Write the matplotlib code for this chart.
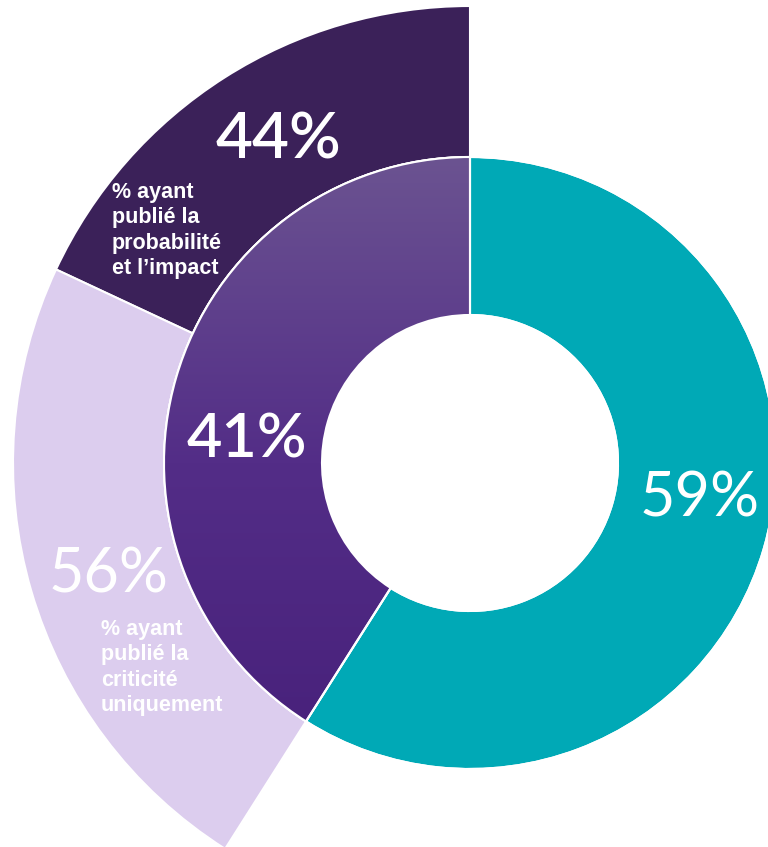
import numpy as np
import matplotlib
matplotlib.use("Agg")
import matplotlib.pyplot as plt
from matplotlib.patches import Wedge
from matplotlib.colors import LinearSegmentedColormap

# Inner ring: share of organisations (published vs. not)
inner_labels = ["41%", "59%"]
inner_values = [41, 59]

# Outer ring: breakdown of the 41% segment
outer_labels = ["44%", "56%"]
outer_values = [44, 56]
outer_texts = ["% ayant\npublié la\nprobabilité\net l\u2019impact",
               "% ayant\npublié la\ncriticité\nuniquement"]

W, H = 768, 847
fig = plt.figure(figsize=(W / 100, H / 100), dpi=100)
ax = fig.add_axes([0, 0, 1, 1])

cx, cy = 470, H - 463
r_in, r_mid, r_out = 148, 306, 457

teal = "#00a9b6"
purple_top, purple_bot = "#6b5391", "#47207a"
dark = "#3b2159"
light = "#dccdee"

# Outer ring spans only the 41% slice, split into 44 / 56
part = inner_values[0]
outer_sizes = [part * v / 100 for v in outer_values] + [100 - part]
ow, _ = ax.pie(outer_sizes, radius=r_out, center=(cx, cy), startangle=90,
               counterclock=True, colors=[dark, light, "none"],
               wedgeprops=dict(width=r_out - r_mid, edgecolor="white", linewidth=1.5))
ow[2].set_edgecolor("none")

iw, _ = ax.pie(inner_values, radius=r_mid, center=(cx, cy), startangle=90,
               counterclock=True, colors=[purple_bot, teal],
               wedgeprops=dict(width=r_mid - r_in, edgecolor="white", linewidth=1.5))

# Vertical gradient on the purple slice: lighter at the top
cmap = LinearSegmentedColormap.from_list("pg", [purple_top, "#532d87", purple_bot])
grad = np.linspace(1, 0, 256).reshape(-1, 1)
im = ax.imshow(grad, cmap=cmap, aspect="auto", origin="lower",
               extent=(cx - r_mid, cx, cy - r_mid, cy + r_mid), zorder=1.5)
im.set_clip_path(iw[0])

# Redraw white separators over the gradient
for w in iw:
    ax.add_patch(Wedge(w.center, w.r, w.theta1, w.theta2, width=w.width,
                       facecolor="none", edgecolor="white", linewidth=1.5, zorder=3))

big = dict(color="white", family="Lato", ha="center", va="center", zorder=5)
ax.text(278, H - 140, outer_labels[0], fontsize=46, weight="semibold", **big)
ax.text(109, H - 575, outer_labels[1], fontsize=44, weight="normal", **big)
ax.text(247, H - 439, inner_labels[0], fontsize=44, weight="semibold", **big)
ax.text(700, H - 499, inner_labels[1], fontsize=44, weight="normal", **big)

small = dict(color="white", family="Liberation Sans", weight="bold",
             fontsize=15.5, ha="left", va="top", linespacing=1.28, zorder=5)
ax.text(112, H - 182, outer_texts[0], **small)
ax.text(101, H - 619, outer_texts[1], **small)

ax.set_xlim(0, W)
ax.set_ylim(0, H)
ax.set_aspect("equal")
ax.axis("off")
fig.savefig("out.png", dpi=100)
